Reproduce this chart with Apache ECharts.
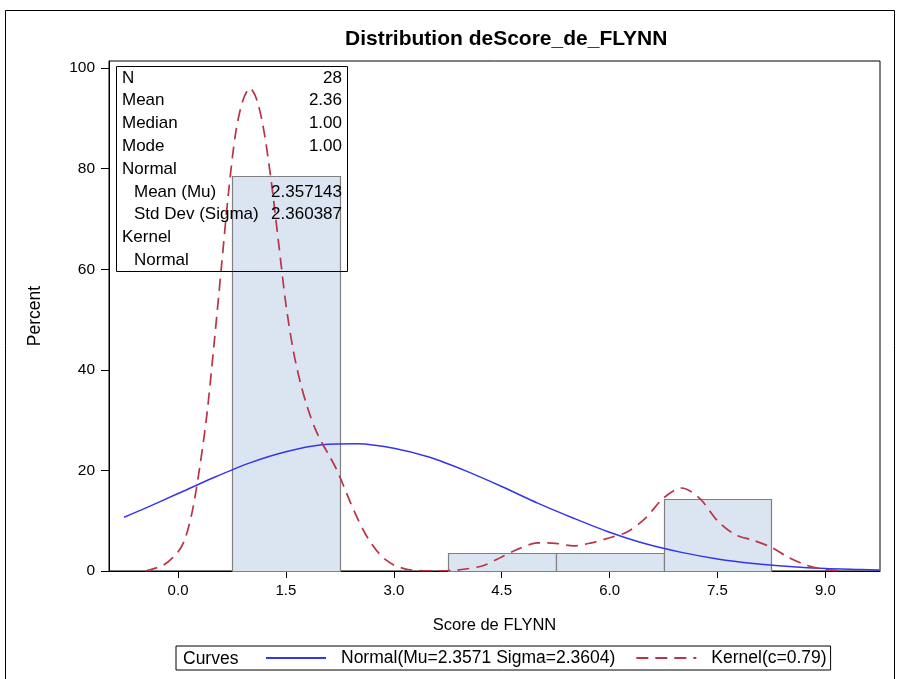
<!DOCTYPE html>
<html>
<head>
<meta charset="utf-8">
<script src="https://cdn.jsdelivr.net/npm/echarts@6/dist/echarts.min.js"></script>
<style>
  html, body { margin: 0; padding: 0; background: #fff; }
  #chart { width: 898px; height: 679px; }
</style>
</head>
<body>
<div id="chart"></div>
<script>
// histogram bins (percent of 28 obs)
const binStart = [0.75, 3.75, 5.25, 6.75];
const binEnd = [2.25, 5.25, 6.75, 8.25];
const binPercent = [78.57, 3.57, 3.57, 14.29];

// fitted normal curve
const normalX = [-0.75, -0.5, 0, 0.5, 1, 1.5, 2, 2.5, 3, 3.5, 4, 4.5, 5, 5.5, 6, 6.5, 7, 7.5, 8, 8.5, 9, 9.5, 9.75];
const normalY = [10.7, 12.2, 15.4, 18.6, 21.5, 23.7, 25.1, 25.3, 24.4, 22.6, 19.9, 16.8, 13.5, 10.5, 7.7, 5.4, 3.7, 2.4, 1.5, 0.9, 0.5, 0.3, 0.2];

// kernel density curve
const kernelX = [-0.45, -0.2, 0, 0.1, 0.2, 0.3, 0.4, 0.5, 0.6, 0.7, 0.8, 0.9, 1.0, 1.1, 1.2, 1.3, 1.4, 1.5, 1.6, 1.7, 1.8, 1.9, 2.0, 2.1, 2.2, 2.3, 2.4, 2.5, 2.6, 2.7, 2.8, 2.9, 3.0, 3.2, 3.5, 3.8, 4.0, 4.25, 4.5, 4.75, 5.0, 5.25, 5.5, 5.75, 6.0, 6.25, 6.5, 6.75, 7.0, 7.25, 7.5, 7.75, 8.0, 8.25, 8.5, 8.75, 9.0, 9.2];
const kernelY = [0, 1.2, 3.8, 6.5, 12, 20.5, 31, 45, 60, 75, 87, 93.5, 96, 93.5, 87, 77, 65, 53, 44, 37.5, 32.5, 28.5, 25.5, 23, 20.3, 17, 13.5, 10.3, 7.5, 5.2, 3.4, 2.1, 1.2, 0.3, 0.05, 0.1, 0.4, 1.1, 2.8, 4.5, 5.6, 5.5, 5.0, 5.6, 6.6, 7.8, 10.5, 14.5, 16.5, 14.5, 10, 7.2, 6.1, 4.7, 2.6, 1.1, 0.3, 0.05];

const xTicks = [0, 1.5, 3, 4.5, 6, 7.5, 9];
const yTicks = [0, 20, 40, 60, 80, 100];

// summary statistics inset
const statLabels = ["N", "Mean", "Median", "Mode", "Normal", "Mean (Mu)", "Std Dev (Sigma)", "Kernel", "Normal"];
const statValues = ["28", "2.36", "1.00", "1.00", "", "2.357143", "2.360387", "", ""];
const statIndent = [0, 0, 0, 0, 0, 1, 1, 0, 1];

const normalName = "Normal(Mu=2.3571 Sigma=2.3604)";
const kernelName = "Kernel(c=0.79)";

const FONT = "'Liberation Sans', Arial, sans-serif";
const blue = "#3535ee";
const red = "#b83447";

const chart = echarts.init(document.getElementById("chart"));

const statText = [];
statLabels.forEach(function (lab, i) {
  const y = 78 + i * 22.8;
  statText.push({
    type: "text", x: statIndent[i] ? 134 : 122, y: y, z: 100,
    style: { text: lab, font: "17px " + FONT, fill: "#000", textVerticalAlign: "middle" }
  });
  if (statValues[i]) {
    statText.push({
      type: "text", x: 342, y: y, z: 100,
      style: { text: statValues[i], font: "17px " + FONT, fill: "#000", textAlign: "right", textVerticalAlign: "middle" }
    });
  }
});

const option = {
  animation: false,
  backgroundColor: "#fff",
  title: {
    text: "Distribution deScore_de_FLYNN",
    left: 340, top: 24,
    textStyle: { fontFamily: FONT, fontSize: 21, fontWeight: "bold", color: "#000" }
  },
  grid: {
    left: 109, right: 18, top: 61, bottom: 108,
    show: true, borderColor: "#000", borderWidth: 1
  },
  xAxis: {
    type: "value",
    min: -0.96, max: 9.76,
    name: "Score de FLYNN",
    nameLocation: "middle",
    nameGap: 46,
    nameTextStyle: { fontFamily: FONT, fontSize: 16.5, color: "#000" },
    axisLine: { onZero: false, lineStyle: { color: "#000" } },
    axisTick: { length: 7, customValues: xTicks, lineStyle: { color: "#000" } },
    axisLabel: {
      customValues: xTicks, margin: 12,
      fontFamily: FONT, fontSize: 15, color: "#000",
      formatter: function (v) { return v.toFixed(1); }
    },
    splitLine: { show: false }
  },
  yAxis: {
    type: "value",
    min: 0, max: 101.4,
    name: "Percent",
    nameLocation: "middle",
    nameGap: 65,
    nameTextStyle: { fontFamily: FONT, fontSize: 17.5, color: "#000" },
    axisLine: { show: true, onZero: false, lineStyle: { color: "#000" } },
    axisTick: { show: true, length: 8, customValues: yTicks, lineStyle: { color: "#000" } },
    axisLabel: { customValues: yTicks, margin: 14, fontFamily: FONT, fontSize: 15.5, color: "#000" },
    splitLine: { show: false }
  },
  legend: {
    left: 176, top: 646,
    padding: [3, 4, 3, 89],
    borderColor: "#000", borderWidth: 1,
    itemWidth: 60, itemHeight: 12, itemGap: 20,
    itemStyle: { opacity: 0 },
    textStyle: { fontFamily: FONT, fontSize: 17.5, color: "#000", padding: [0, 0, 0, 10] },
    data: [normalName, kernelName]
  },
  graphic: [
    { type: "rect", shape: { x: 5.5, y: 10.5, width: 889, height: 700 },
      style: { fill: null, stroke: "#000", lineWidth: 1 }, silent: true, z: -10 },
    { type: "text", x: 183, y: 659, z: 100,
      style: { text: "Curves", font: "17.5px " + FONT, fill: "#000", textVerticalAlign: "middle" } },
    { type: "rect", shape: { x: 116.5, y: 66.5, width: 231, height: 205 }, z: 100,
      style: { fill: null, stroke: "#000", lineWidth: 1 } }
  ].concat(statText),
  series: [
    {
      type: "custom",
      name: "hist",
      data: binStart.map(function (s, i) { return [s, binEnd[i], binPercent[i]]; }),
      renderItem: function (params, api) {
        const p0 = api.coord([api.value(0), 0]);
        const p1 = api.coord([api.value(1), api.value(2)]);
        return {
          type: "rect",
          shape: { x: Math.round(p0[0]) + 0.5, y: Math.round(p1[1]) + 0.5,
                   width: Math.round(p1[0]) - Math.round(p0[0]), height: Math.round(p0[1]) - Math.round(p1[1]) },
          style: { fill: "#dbe4f1", stroke: "#808080", lineWidth: 1.2 }
        };
      },
      z: 1
    },
    {
      type: "line",
      name: normalName,
      data: normalX.map(function (x, i) { return [x, normalY[i]]; }),
      smooth: 0.3,
      symbol: "none",
      lineStyle: { color: blue, width: 1.5 },
      itemStyle: { color: blue },
      z: 3
    },
    {
      type: "line",
      name: kernelName,
      data: kernelX.map(function (x, i) { return [x, kernelY[i]]; }),
      smooth: 0.3,
      symbol: "none",
      lineStyle: { color: red, width: 1.7, type: [12, 7] },
      itemStyle: { color: red },
      z: 4
    }
  ]
};

chart.setOption(option);
</script>
</body>
</html>
